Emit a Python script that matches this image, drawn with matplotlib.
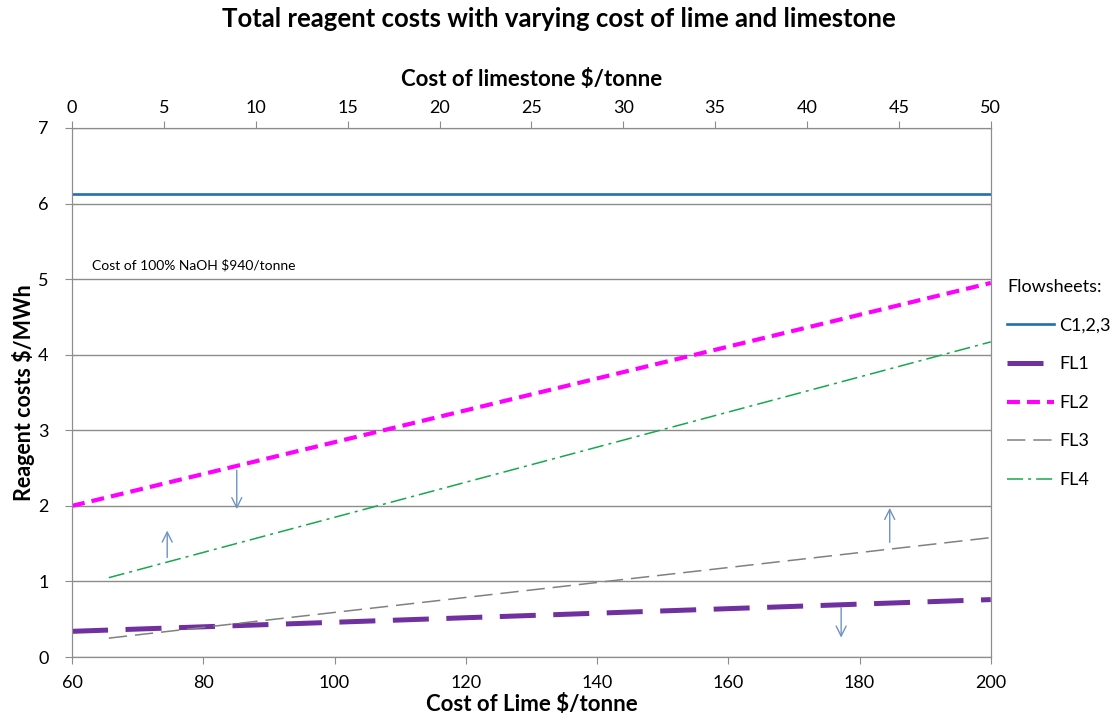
import matplotlib.pyplot as plt

plt.rcParams['font.family'] = ['Lato', 'DejaVu Sans']

# lime cost axis (bottom) series
lime_c = [60, 200]
cost_c = [6.13, 6.13]
lime_fl1 = [60, 200]
cost_fl1 = [0.34, 0.76]
lime_fl2 = [60, 200]
cost_fl2 = [2.0, 4.95]

# limestone cost axis (top) series
stone_fl3 = [2, 50]
cost_fl3 = [0.25, 1.58]
stone_fl4 = [2, 50]
cost_fl4 = [1.05, 4.17]

grid_col = '#8c8c8c'

fig = plt.figure(figsize=(11.17, 7.26), dpi=100)
ax = fig.add_axes([0.0645, 0.095, 0.8225, 0.7287])
ax2 = ax.twiny()

ax.plot(lime_c, cost_c, color='#1f6fb4', lw=1.9, label='C1,2,3')
ax.plot(lime_fl1, cost_fl1, color='#7030a0', lw=3.6, dashes=(7.2, 3.5), label='FL1')
ax.plot(lime_fl2, cost_fl2, color='#ff00ff', lw=3.0, dashes=(3.1, 1.7), label='FL2')
ax2.plot(stone_fl3, cost_fl3, color='#808080', lw=1.1, dashes=(12, 5.2), label='FL3')
ax2.plot(stone_fl4, cost_fl4, color='#16a84e', lw=1.1, dashes=(10.5, 3.3, 2, 3.3), label='FL4')

ax.set_xlim(60, 200)
ax2.set_xlim(0, 50)
ax.set_ylim(0, 7)
ax.set_xticks(range(60, 201, 20))
ax2.set_xticks(range(0, 51, 5))
ax.set_yticks(range(0, 8))
ax.yaxis.grid(True, color=grid_col, lw=1.0)
ax.set_axisbelow(True)

for a in (ax, ax2):
    for s in a.spines.values():
        s.set_color(grid_col)
    a.tick_params(colors=grid_col, labelcolor='black', labelsize=13, length=5)
ax.tick_params(axis='y', pad=12)
ax.tick_params(axis='x', pad=8)

ax.set_xlabel('Cost of Lime $/tonne', fontsize=16, fontweight='bold', labelpad=2)
ax2.set_xlabel('Cost of limestone $/tonne', fontsize=16, fontweight='bold', labelpad=10)
ax.set_ylabel('Reagent costs $/MWh', fontsize=15.5, fontweight='bold', labelpad=2)
fig.suptitle('Total reagent costs with varying cost of lime and limestone',
             fontsize=18.5, fontweight='bold', y=0.99)

ax.text(63.0, 5.19, 'Cost of 100% NaOH $940/tonne', fontsize=10, va='center')

arrow_col = '#6f93c4'
arrows = [((85.1, 2.51), (85.1, 1.92)),
          ((74.5, 1.28), (74.5, 1.71)),
          ((184.6, 1.48), (184.6, 2.01)),
          ((177.2, 0.69), (177.2, 0.22))]
for start, end in arrows:
    ax.annotate('', xy=end, xytext=start,
                arrowprops=dict(arrowstyle='->', color=arrow_col, lw=1.0,
                                mutation_scale=18))

h1, l1 = ax.get_legend_handles_labels()
h2, l2 = ax2.get_legend_handles_labels()
leg = ax.legend(h1 + h2, l1 + l2, title='Flowsheets:', loc='upper left',
                bbox_to_anchor=(1.0, 0.745), frameon=False, fontsize=13,
                title_fontsize=13, handlelength=2.6, labelspacing=1.25,
                handletextpad=0.3)
leg._legend_box.align = 'left'

plt.savefig('out.png', dpi=100)
